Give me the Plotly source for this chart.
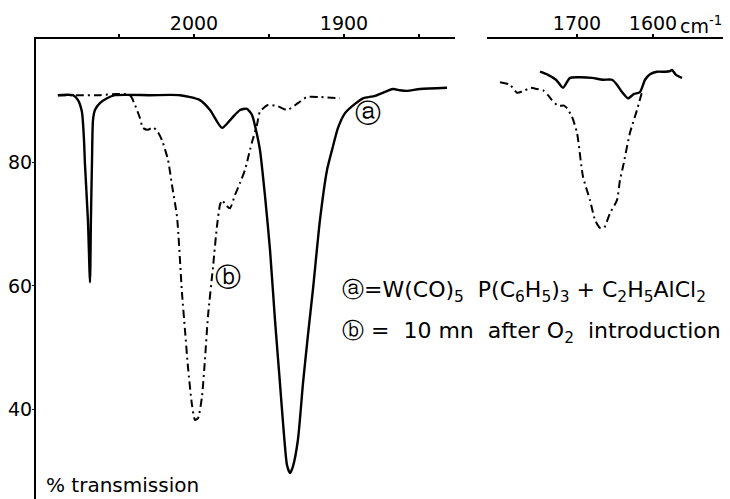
import plotly.graph_objects as go

# ---- data: curve (a) solid, curve (b) dash-dot; wavenumber (cm-1) vs % transmission
a_left_wn = [2090.7, 2080.7, 2077.3, 2074.7, 2073.3, 2072.7, 2070.7, 2069.3, 2068.7, 2068.0,
             2067.3, 2066.0, 2062.7, 2058.0, 2052.7, 2029.3, 2009.3, 1996.0, 1989.3, 1981.3,
             1974.7, 1969.3, 1964.7, 1961.3, 1958.7, 1956.0, 1952.7, 1949.3, 1946.0, 1942.7,
             1940.0, 1938.0, 1936.0, 1934.0, 1930.7, 1927.3, 1924.0, 1920.7, 1916.0, 1911.3,
             1908.0, 1904.0, 1899.3, 1892.7, 1887.3, 1879.3, 1867.3, 1862.7, 1858.0, 1849.3, 1831.3]
a_left_t = [90.9, 90.9, 90.1, 88.2, 83.6, 79.9, 70.7, 60.6, 70.7, 79.9,
            86.9, 88.5, 89.6, 90.4, 90.9, 90.9, 90.9, 90.1, 88.5, 85.6,
            87.2, 88.5, 88.7, 87.7, 85.3, 82.0, 74.7, 65.8, 54.5, 44.3,
            35.9, 31.0, 29.7, 30.8, 35.1, 44.3, 52.1, 59.4, 70.7, 78.8,
            82.0, 85.6, 88.0, 89.5, 90.4, 90.8, 91.9, 91.7, 91.6, 91.9, 92.1]

b_left_wn = [2090.7, 2076.0, 2062.7, 2051.3, 2042.7, 2039.3, 2036.0, 2034.0, 2030.7, 2027.3,
             2024.0, 2021.3, 2017.3, 2014.7, 2011.3, 2008.0, 2006.0, 2004.0, 2001.3, 1999.3,
             1997.3, 1994.7, 1992.7, 1990.7, 1987.3, 1984.7, 1982.7, 1981.3, 1978.7, 1976.0,
             1972.7, 1969.3, 1966.0, 1962.7, 1961.3, 1958.0, 1956.0, 1950.7, 1944.0, 1938.0,
             1930.7, 1924.7, 1916.0, 1902.7]
b_left_t = [90.9, 90.9, 90.9, 91.1, 90.9, 89.3, 87.2, 85.6, 85.3, 85.7,
            84.9, 83.6, 80.4, 76.4, 71.2, 58.9, 52.9, 46.9, 40.7, 38.3,
            38.6, 42.0, 48.0, 55.0, 63.1, 69.6, 73.1, 73.9, 73.1, 72.6,
            74.7, 76.7, 78.8, 82.0, 83.3, 86.1, 88.2, 89.3, 89.1, 88.5,
            89.6, 90.6, 90.6, 90.4]

a_right_wn = [1748.7, 1738.2, 1727.6, 1718.4, 1709.2, 1696.1, 1680.3, 1665.8, 1653.9, 1647.4,
              1640.8, 1632.9, 1625.0, 1617.1, 1610.5, 1603.9, 1594.7, 1584.2, 1577.6, 1575.0,
              1569.7, 1561.8]
a_right_t = [94.7, 94.2, 93.4, 92.1, 93.7, 93.8, 93.7, 93.4, 93.4, 92.6,
             91.4, 90.4, 91.1, 91.4, 93.4, 94.3, 94.7, 94.7, 94.8, 95.0,
             94.2, 93.7]

b_right_wn = [1801.3, 1788.2, 1778.9, 1768.4, 1761.8, 1752.6, 1744.7, 1738.2, 1732.9, 1725.0,
              1717.1, 1713.2, 1706.6, 1700.0, 1692.1, 1682.9, 1676.3, 1669.7, 1664.5, 1656.6,
              1647.4, 1643.4, 1639.5, 1630.3, 1621.1, 1614.5]
b_right_t = [93.0, 92.6, 91.3, 91.7, 92.1, 91.9, 91.7, 90.9, 90.1, 89.2,
             89.2, 88.8, 87.4, 84.8, 77.7, 73.9, 70.7, 69.4, 69.4, 71.8,
             73.9, 77.2, 79.3, 84.8, 88.5, 91.4]

left_ticks = [2050, 2000, 1950, 1900, 1850]
left_ticktext = ["", "2000", "", "1900", ""]
right_ticks = [1700, 1600]
right_ticktext = ["1700", "1600"]
y_ticks = [40, 60, 80]

FONT = "DejaVu Sans"
solid = dict(color="black", width=2.4, shape="spline", smoothing=0.6)
dashed = dict(color="black", width=2.0, dash="8px,4px,2px,4px", shape="spline", smoothing=0.6)

fig = go.Figure()
fig.add_trace(go.Scatter(x=b_left_wn, y=b_left_t, mode="lines", line=dashed, xaxis="x", yaxis="y"))
fig.add_trace(go.Scatter(x=a_left_wn, y=a_left_t, mode="lines", line=solid, xaxis="x", yaxis="y"))
fig.add_trace(go.Scatter(x=b_right_wn, y=b_right_t, mode="lines", line=dashed, xaxis="x2", yaxis="y"))
fig.add_trace(go.Scatter(x=a_right_wn, y=a_right_t, mode="lines", line=solid, xaxis="x2", yaxis="y"))

axis_common = dict(side="top", showline=True, linecolor="black", linewidth=2, showgrid=False,
                   zeroline=False, ticks="outside", ticklen=3, tickwidth=1.5, tickcolor="black",
                   ticklabelstandoff=-4,
                   tickfont=dict(family=FONT, size=19, color="black"), anchor="y")

fig.update_layout(
    width=730, height=499,
    margin=dict(l=36, r=7, t=39, b=0),
    paper_bgcolor="white", plot_bgcolor="white",
    showlegend=False,
    xaxis=dict(domain=[0, 0.6099], range=[2105.3, 1826.0],
               tickvals=left_ticks, ticktext=left_ticktext, **axis_common),
    xaxis2=dict(domain=[0.6565, 1.0], range=[1818.4, 1507.9],
                tickvals=right_ticks, ticktext=right_ticktext, **axis_common),
    yaxis=dict(range=[25.5, 100], showline=True, linecolor="black", linewidth=2, showgrid=False,
               zeroline=False, ticks="outside", ticklen=2, tickcolor="black",
               ticklabelstandoff=-4,
               tickvals=y_ticks, tickfont=dict(family=FONT, size=19, color="black"), anchor="x"),
)

fig.add_annotation(x=1884, y=88.0, xref="x", yref="y", text="ⓐ", showarrow=False,
                   font=dict(family=FONT, size=26, color="black"))
fig.add_annotation(x=1977, y=61.5, xref="x", yref="y", text="ⓑ", showarrow=False,
                   font=dict(family=FONT, size=26, color="black"))
fig.add_annotation(x=0.4425, y=0.452, xref="paper", yref="paper", xanchor="left", yanchor="middle",
                   text="ⓐ=W(CO)<sub>5</sub>  P(C<sub>6</sub>H<sub>5</sub>)<sub>3</sub> + C<sub>2</sub>H<sub>5</sub>AlCl<sub>2</sub>",
                   showarrow=False, font=dict(family=FONT, size=22, color="black"))
fig.add_annotation(x=0.4425, y=0.361, xref="paper", yref="paper", xanchor="left", yanchor="middle",
                   text="ⓑ =  10 mn  after O<sub>2</sub>  introduction",
                   showarrow=False, font=dict(family=FONT, size=22, color="black"))
fig.add_annotation(x=0.0116, y=0.0, xref="paper", yref="paper", xanchor="left", yanchor="bottom",
                   text="% transmission", showarrow=False, font=dict(family=FONT, size=20, color="black"))
fig.add_annotation(x=0.9345, y=1.03, xref="paper", yref="paper", xanchor="left", yanchor="middle",
                   text="cm<sup>-1</sup>", showarrow=False, font=dict(family=FONT, size=19, color="black"))

fig.write_html("out.html")
